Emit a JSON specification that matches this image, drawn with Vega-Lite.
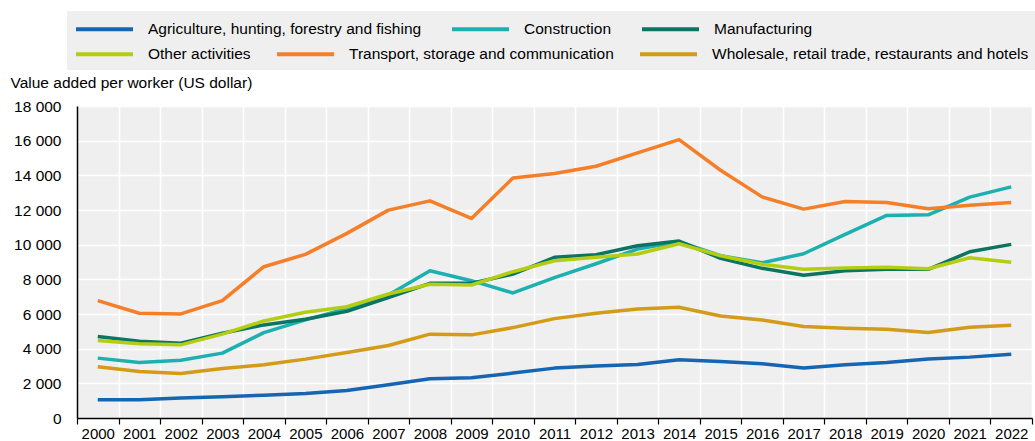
{
  "$schema": "https://vega.github.io/schema/vega-lite/v6.json",
  "width": 955,
  "height": 312,
  "autosize": {"type": "none"},
  "padding": {"left": 77, "top": 106, "right": 3, "bottom": 23},
  "background": "white",
  "datasets": {
    "wide": [
      {"year": "2000", "Agriculture, hunting, forestry and fishing": 1054, "Construction": 3454, "Manufacturing": 4698, "Other activities": 4467, "Transport, storage and communication": 6770, "Wholesale, retail trade, restaurants and hotels": 2953},
      {"year": "2001", "Agriculture, hunting, forestry and fishing": 1054, "Construction": 3201, "Manufacturing": 4433, "Other activities": 4277, "Transport, storage and communication": 6045, "Wholesale, retail trade, restaurants and hotels": 2683},
      {"year": "2002", "Agriculture, hunting, forestry and fishing": 1160, "Construction": 3330, "Manufacturing": 4318, "Other activities": 4220, "Transport, storage and communication": 6005, "Wholesale, retail trade, restaurants and hotels": 2568},
      {"year": "2003", "Agriculture, hunting, forestry and fishing": 1230, "Construction": 3742, "Manufacturing": 4893, "Other activities": 4836, "Transport, storage and communication": 6770, "Wholesale, retail trade, restaurants and hotels": 2856},
      {"year": "2004", "Agriculture, hunting, forestry and fishing": 1310, "Construction": 4928, "Manufacturing": 5371, "Other activities": 5601, "Transport, storage and communication": 8728, "Wholesale, retail trade, restaurants and hotels": 3069},
      {"year": "2005", "Agriculture, hunting, forestry and fishing": 1420, "Construction": 5660, "Manufacturing": 5699, "Other activities": 6102, "Transport, storage and communication": 9441, "Wholesale, retail trade, restaurants and hotels": 3397},
      {"year": "2006", "Agriculture, hunting, forestry and fishing": 1590, "Construction": 6300, "Manufacturing": 6150, "Other activities": 6420, "Transport, storage and communication": 10650, "Wholesale, retail trade, restaurants and hotels": 3780},
      {"year": "2007", "Agriculture, hunting, forestry and fishing": 1917, "Construction": 7100, "Manufacturing": 6950, "Other activities": 7156, "Transport, storage and communication": 11992, "Wholesale, retail trade, restaurants and hotels": 4180},
      {"year": "2008", "Agriculture, hunting, forestry and fishing": 2262, "Construction": 8497, "Manufacturing": 7772, "Other activities": 7714, "Transport, storage and communication": 12527, "Wholesale, retail trade, restaurants and hotels": 4836},
      {"year": "2009", "Agriculture, hunting, forestry and fishing": 2320, "Construction": 7922, "Manufacturing": 7772, "Other activities": 7674, "Transport, storage and communication": 11514, "Wholesale, retail trade, restaurants and hotels": 4796},
      {"year": "2010", "Agriculture, hunting, forestry and fishing": 2590, "Construction": 7213, "Manufacturing": 8307, "Other activities": 8440, "Transport, storage and communication": 13851, "Wholesale, retail trade, restaurants and hotels": 5216},
      {"year": "2011", "Agriculture, hunting, forestry and fishing": 2878, "Construction": 8094, "Manufacturing": 9269, "Other activities": 9073, "Transport, storage and communication": 14105, "Wholesale, retail trade, restaurants and hotels": 5734},
      {"year": "2012", "Agriculture, hunting, forestry and fishing": 2994, "Construction": 8900, "Manufacturing": 9419, "Other activities": 9269, "Transport, storage and communication": 14525, "Wholesale, retail trade, restaurants and hotels": 6045},
      {"year": "2013", "Agriculture, hunting, forestry and fishing": 3086, "Construction": 9747, "Manufacturing": 9937, "Other activities": 9459, "Transport, storage and communication": 15291, "Wholesale, retail trade, restaurants and hotels": 6292},
      {"year": "2014", "Agriculture, hunting, forestry and fishing": 3356, "Construction": 10167, "Manufacturing": 10207, "Other activities": 10052, "Transport, storage and communication": 16062, "Wholesale, retail trade, restaurants and hotels": 6390},
      {"year": "2015", "Agriculture, hunting, forestry and fishing": 3259, "Construction": 9361, "Manufacturing": 9211, "Other activities": 9361, "Transport, storage and communication": 14295, "Wholesale, retail trade, restaurants and hotels": 5889},
      {"year": "2016", "Agriculture, hunting, forestry and fishing": 3126, "Construction": 8958, "Manufacturing": 8635, "Other activities": 8866, "Transport, storage and communication": 12757, "Wholesale, retail trade, restaurants and hotels": 5659},
      {"year": "2017", "Agriculture, hunting, forestry and fishing": 2878, "Construction": 9476, "Manufacturing": 8232, "Other activities": 8578, "Transport, storage and communication": 12049, "Wholesale, retail trade, restaurants and hotels": 5274},
      {"year": "2018", "Agriculture, hunting, forestry and fishing": 3069, "Construction": 10593, "Manufacturing": 8497, "Other activities": 8650, "Transport, storage and communication": 12493, "Wholesale, retail trade, restaurants and hotels": 5181},
      {"year": "2019", "Agriculture, hunting, forestry and fishing": 3201, "Construction": 11687, "Manufacturing": 8578, "Other activities": 8693, "Transport, storage and communication": 12435, "Wholesale, retail trade, restaurants and hotels": 5124},
      {"year": "2020", "Agriculture, hunting, forestry and fishing": 3397, "Construction": 11722, "Manufacturing": 8578, "Other activities": 8613, "Transport, storage and communication": 12067, "Wholesale, retail trade, restaurants and hotels": 4928},
      {"year": "2021", "Agriculture, hunting, forestry and fishing": 3512, "Construction": 12740, "Manufacturing": 9592, "Other activities": 9246, "Transport, storage and communication": 12280, "Wholesale, retail trade, restaurants and hotels": 5239},
      {"year": "2022", "Agriculture, hunting, forestry and fishing": 3684, "Construction": 13334, "Manufacturing": 10017, "Other activities": 8981, "Transport, storage and communication": 12435, "Wholesale, retail trade, restaurants and hotels": 5354}
    ]
  },
  "data": {"name": "wide"},
  "transform": [
    {"fold": ["Agriculture, hunting, forestry and fishing", "Construction", "Manufacturing", "Other activities", "Transport, storage and communication", "Wholesale, retail trade, restaurants and hotels"], "as": ["sector", "value"]}
  ],
  "encoding": {
    "x": {
      "field": "year",
      "type": "ordinal",
      "bandPosition": 0.5,
      "scale": {"type": "band", "paddingInner": 0, "paddingOuter": 0},
      "axis": {
        "title": null,
        "labelAngle": 0,
        "tickBand": "extent",
        "grid": true,
        "gridColor": "white",
        "gridWidth": 1.5,
        "domainColor": "black",
        "domainWidth": 1.5,
        "tickColor": "black",
        "tickWidth": 1.2,
        "tickSize": 6,
        "labelPadding": 2,
        "labelFontSize": 15,
        "labelColor": "#000000"
      }
    },
    "y": {
      "field": "value",
      "type": "quantitative",
      "scale": {"domain": [0, 18000], "nice": false},
      "axis": {
        "values": [0, 2000, 4000, 6000, 8000, 10000, 12000, 14000, 16000, 18000],
        "labelExpr": "replace(format(datum.value, ','), ',', ' ')",
        "grid": true,
        "gridColor": "white",
        "gridWidth": 1.5,
        "ticks": false,
        "domainColor": "black",
        "domainWidth": 1.5,
        "labelPadding": 16,
        "labelFontSize": 15.5,
        "labelColor": "#000000",
        "title": "Value added per worker (US dollar)",
        "titleAngle": 0,
        "titleAlign": "left",
        "titleBaseline": "middle",
        "titleX": -67,
        "titleY": -24,
        "titleFontSize": 15.5,
        "titleFontWeight": "normal",
        "titleColor": "#000000"
      }
    }
  },
  "layer": [
    {
      "transform": [{"filter": {"field": "sector", "oneOf": ["Agriculture, hunting, forestry and fishing", "Construction", "Manufacturing"]}}],
      "mark": {"type": "line", "strokeWidth": 3.5, "strokeJoin": "round"},
      "encoding": {
        "color": {
          "field": "sector",
          "type": "nominal",
          "scale": {
            "domain": ["Agriculture, hunting, forestry and fishing", "Construction", "Manufacturing"],
            "range": ["#1565b2", "#1db0b0", "#0b7462"]
          },
          "legend": {
            "title": null,
            "orient": "none",
            "legendX": -3,
            "legendY": -87,
            "zindex": 2,
            "direction": "horizontal",
            "padding": 0,
            "symbolType": "M-1,0H6.125",
            "symbolSize": 256,
            "symbolStrokeWidth": 4,
            "symbolFillColor": "transparent",
            "labelFontSize": 15.5,
            "labelColor": "#000000",
            "labelOffset": 54,
            "labelLimit": 500,
            "columnPadding": 22
          }
        }
      }
    },
    {
      "transform": [{"filter": {"field": "sector", "oneOf": ["Other activities", "Transport, storage and communication", "Wholesale, retail trade, restaurants and hotels"]}}],
      "mark": {"type": "line", "strokeWidth": 3.5, "strokeJoin": "round"},
      "encoding": {
        "color": {
          "field": "sector",
          "type": "nominal",
          "scale": {
            "domain": ["Other activities", "Transport, storage and communication", "Wholesale, retail trade, restaurants and hotels"],
            "range": ["#b4cd12", "#f57f29", "#d39b18"]
          },
          "legend": {
            "title": " ",
            "titleFontSize": 14,
            "titlePadding": 12,
            "orient": "none",
            "legendX": -10,
            "legendY": -95,
            "zindex": 1,
            "direction": "horizontal",
            "fillColor": "#efefef",
            "padding": 7,
            "symbolType": "M-1,0H6.125",
            "symbolSize": 256,
            "symbolStrokeWidth": 4,
            "symbolFillColor": "transparent",
            "labelFontSize": 15.5,
            "labelColor": "#000000",
            "labelOffset": 54,
            "labelLimit": 500,
            "columnPadding": 18
          }
        }
      }
    }
  ],
  "resolve": {"scale": {"color": "independent"}, "legend": {"color": "independent"}},
  "config": {
    "font": "Liberation Sans",
    "view": {"fill": "#efefef", "stroke": null}
  }
}
